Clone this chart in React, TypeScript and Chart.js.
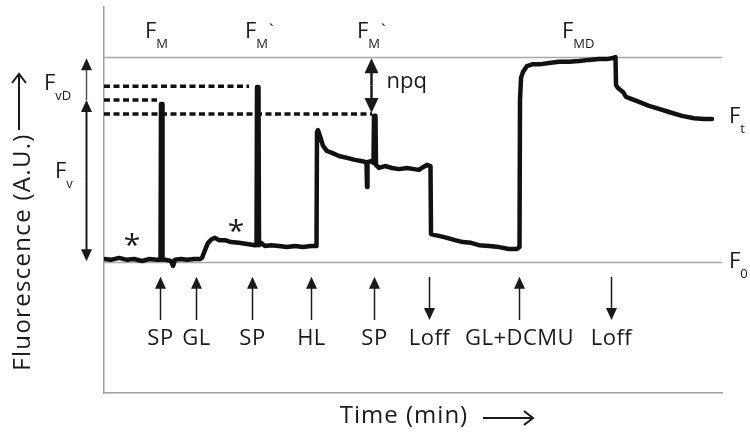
import React, { useEffect, useRef } from "react";
import { Chart, registerables } from "chart.js";

Chart.register(...registerables);

// ---- Measured trace: time (min) and fluorescence (A.U.) ----
const traceTime = [
  0.0, 0.7, 1.5, 2.3, 3.0, 3.8, 4.5, 5.3, 5.65, 5.7, 5.8, 5.85, 6.2, 6.7, 6.9, 7.1, 7.7, 8.3, 9.0, 9.6,
  9.8, 10.1, 10.4, 10.8, 11.1, 11.5, 12.1, 12.7, 13.5, 14.3, 15.1, 15.25, 15.3, 15.45, 15.5, 15.7, 16.1,
  16.7, 17.5, 18.3, 19.1, 19.9, 20.7, 21.25, 21.3, 21.4, 21.6, 21.9, 22.3, 22.8, 23.5, 24.3, 25.1, 25.7,
  26.25, 26.3, 26.35, 26.7, 26.95, 27.0, 27.15, 27.2, 27.5, 28.1, 28.8, 29.5, 30.3, 31.0, 31.5, 31.9,
  32.3, 32.65, 32.7, 33.1, 33.5, 34.3, 35.1, 35.9, 36.7, 37.5, 38.5, 39.5, 40.5, 41.3, 41.55, 41.6, 41.7,
  41.9, 42.3, 42.9, 43.7, 44.5, 45.5, 46.5, 47.5, 48.5, 49.5, 50.3, 50.9, 51.15, 51.2, 51.4, 51.9, 52.2,
  53.5, 54.5, 55.5, 56.5, 57.8, 59.0, 60.0, 60.8,
];
const traceFluor = [
  34.7, 34.5, 35.0, 34.5, 34.7, 34.2, 34.7, 34.5, 34.5, 74.9, 74.9, 34.5, 34.5, 34.2, 32.9, 34.5, 34.7,
  34.5, 34.7, 34.7, 35.0, 37.0, 38.9, 39.9, 40.2, 39.6, 39.6, 39.1, 38.9, 38.6, 38.3, 38.3, 79.3, 79.3,
  38.3, 38.9, 38.1, 38.3, 38.1, 37.8, 38.1, 37.8, 38.1, 38.1, 67.6, 68.1, 66.6, 64.0, 62.7, 62.2, 61.4,
  60.9, 60.4, 60.1, 59.8, 53.4, 59.8, 60.1, 59.6, 71.8, 71.8, 59.1, 58.3, 58.8, 58.3, 58.0, 58.3, 58.0,
  57.8, 58.5, 59.1, 58.8, 41.2, 40.9, 40.7, 40.2, 39.6, 39.1, 38.9, 38.3, 38.1, 37.8, 37.3, 37.3, 37.8,
  75.9, 81.6, 83.2, 84.7, 85.2, 85.2, 85.5, 85.8, 85.8, 86.0, 86.3, 86.5, 86.5, 86.8, 87.0, 79.8, 79.0,
  78.0, 76.7, 75.4, 74.4, 73.6, 72.8, 71.8, 71.2, 71.0, 71.0,
];

// ---- Reference levels (A.U.) ----
const F0_LEVEL = 33.9;
const FMD_LEVEL = 87.0;
const fmDashLevels = [75.9, 79.5, 72.3];
const fmDashEnds = [5.3, 14.5, 26.8];

// ---- Events below the trace ----
const eventTimes = [5.6, 9.2, 14.8, 20.7, 27.0, 32.5, 41.5, 50.7];
const eventLabels = ["SP", "GL", "SP", "HL", "SP", "Loff", "GL+DCMU", "Loff"];
const eventUp = [true, true, true, true, true, false, true, false];
const EVENT_ARROW_TOP = 30.1;
const EVENT_ARROW_BOTTOM = 18.9;
const EVENT_LABEL_Y = 12.4;

// ---- F labels ----
const fLabelTimes = [4.1, 14.1, 25.3, 45.8, 62.5, 62.5, -6.0, -4.9];
const fLabelLevels = [92.0, 92.0, 92.0, 92.0, 69.9, 32.4, 78.5, 55.7];
const fLabelSubs = ["M", "M", "M", "MD", "t", "0", "vD", "v"];
const fLabelPrimes = ["", "`", "`", "", "", "", "", ""];

// ---- Marker positions ----
const asteriskTimes = [2.8, 13.2];
const asteriskLevels = [40.2, 44.0];
const LEFT_ARROW_TIME = -1.8;
const NPQ_TIME = 26.7;

const FONT = "'Open Sans', 'DejaVu Sans', sans-serif";

function vArrow(ctx: CanvasRenderingContext2D, x: number, yBase: number, yTip: number, hl: number, hw: number) {
  const d = Math.sign(yTip - yBase);
  ctx.beginPath();
  ctx.moveTo(x, yBase);
  ctx.lineTo(x, yTip - d * hl * 0.8);
  ctx.stroke();
  ctx.beginPath();
  ctx.moveTo(x, yTip);
  ctx.lineTo(x - hw, yTip - d * hl);
  ctx.lineTo(x + hw, yTip - d * hl);
  ctx.closePath();
  ctx.fill();
}

const annotatePlugin = {
  id: "annotate",
  beforeDatasetsDraw(chart: any) {
    const { ctx, chartArea, scales } = chart;
    const y = scales.y;
    ctx.save();
    ctx.strokeStyle = "#a8a8a8";
    ctx.lineWidth = 1.5;
    for (const lvl of [F0_LEVEL, FMD_LEVEL]) {
      const py = Math.round(y.getPixelForValue(lvl)) + 0.5;
      ctx.beginPath();
      ctx.moveTo(chartArea.left, py);
      ctx.lineTo(chartArea.right, py);
      ctx.stroke();
    }
    ctx.restore();
  },
  afterDatasetsDraw(chart: any) {
    const { ctx, chartArea, scales } = chart;
    const x = scales.x;
    const y = scales.y;
    ctx.save();
    ctx.fillStyle = "#1a1a1a";
    ctx.strokeStyle = "#1a1a1a";

    // event arrows and labels
    ctx.lineWidth = 1.5;
    eventTimes.forEach((t, i) => {
      const px = Math.round(x.getPixelForValue(t)) + 0.5;
      const top = y.getPixelForValue(EVENT_ARROW_TOP);
      const bot = y.getPixelForValue(EVENT_ARROW_BOTTOM);
      if (eventUp[i]) vArrow(ctx, px, bot, top, 12, 5.5);
      else vArrow(ctx, px, top, bot, 12, 5.5);
      ctx.font = `22px ${FONT}`;
      (ctx as any).letterSpacing = "0.5px";
      ctx.textAlign = "center";
      ctx.textBaseline = "alphabetic";
      ctx.fillText(eventLabels[i], px, y.getPixelForValue(EVENT_LABEL_Y));
      (ctx as any).letterSpacing = "0px";
    });

    // left arrows: FvD and Fv
    const lx = Math.round(x.getPixelForValue(LEFT_ARROW_TIME)) + 0.5;
    const pFm = y.getPixelForValue(fmDashLevels[0]);
    const pFmd = y.getPixelForValue(FMD_LEVEL);
    const pF0 = y.getPixelForValue(F0_LEVEL);
    ctx.strokeStyle = "#555";
    ctx.lineWidth = 1.5;
    vArrow(ctx, lx, pFm, pFmd + 1, 12, 5.5);
    ctx.strokeStyle = "#1a1a1a";
    ctx.lineWidth = 2;
    vArrow(ctx, lx, (pFm + pF0) / 2, pFm, 12, 5.5);
    vArrow(ctx, lx, (pFm + pF0) / 2, pF0 - 1, 12, 5.5);

    // npq double arrow
    const nx = Math.round(x.getPixelForValue(NPQ_TIME)) + 0.5;
    const pTop = y.getPixelForValue(FMD_LEVEL) + 1;
    const pBot = y.getPixelForValue(fmDashLevels[2]) - 1;
    ctx.lineWidth = 2.5;
    vArrow(ctx, nx, (pTop + pBot) / 2, pTop, 15, 7);
    vArrow(ctx, nx, (pTop + pBot) / 2, pBot, 15, 7);
    ctx.font = `22px ${FONT}`;
    ctx.textAlign = "left";
    ctx.fillText("npq", nx + 15, y.getPixelForValue(FMD_LEVEL) + 31);

    // asterisks
    const aSize = 30;
    ctx.font = `${aSize}px ${FONT}`;
    ctx.textAlign = "center";
    asteriskTimes.forEach((t, i) => {
      ctx.fillText("*", x.getPixelForValue(t), y.getPixelForValue(asteriskLevels[i]) + aSize * 0.58);
    });

    // F labels with subscripts
    fLabelTimes.forEach((t, i) => {
      const px = x.getPixelForValue(t);
      const py = y.getPixelForValue(fLabelLevels[i]);
      ctx.textAlign = "left";
      ctx.font = `22px ${FONT}`;
      ctx.fillText("F", px, py);
      const wF = ctx.measureText("F").width;
      ctx.font = `13px ${FONT}`;
      ctx.fillText(fLabelSubs[i], px + wF, py + 10);
      const wS = ctx.measureText(fLabelSubs[i]).width;
      if (fLabelPrimes[i]) {
        ctx.font = `17px ${FONT}`;
        ctx.fillText(fLabelPrimes[i], px + wF + wS + 1, py - 2);
      }
    });

    // axis titles with arrows
    ctx.fillStyle = "#1a1a1a";
    ctx.strokeStyle = "#1a1a1a";
    ctx.lineWidth = 2;
    ctx.font = `24px ${FONT}`;
    (ctx as any).letterSpacing = "1px";
    ctx.textAlign = "center";
    ctx.fillText("Time (min)", chartArea.left + 300, chartArea.bottom + 30);
    const ax0 = chartArea.left + 379;
    const ax1 = chartArea.left + 429;
    const ay = chartArea.bottom + 25;
    ctx.beginPath();
    ctx.moveTo(ax0, ay);
    ctx.lineTo(ax1, ay);
    ctx.moveTo(ax1 - 9, ay - 7);
    ctx.lineTo(ax1, ay);
    ctx.lineTo(ax1 - 9, ay + 7);
    ctx.stroke();

    ctx.save();
    ctx.translate(30, 252);
    ctx.rotate(-Math.PI / 2);
    (ctx as any).letterSpacing = "1.3px";
    ctx.fillText("Fluorescence (A.U.)", 0, 0);
    ctx.restore();
    (ctx as any).letterSpacing = "0px";
    const vx = 19;
    ctx.beginPath();
    ctx.moveTo(vx, 130);
    ctx.lineTo(vx, 74);
    ctx.moveTo(vx - 7, 83);
    ctx.lineTo(vx, 74);
    ctx.lineTo(vx + 7, 83);
    ctx.stroke();

    ctx.restore();
  },
};

export default function App() {
  const canvasRef = useRef<HTMLCanvasElement | null>(null);

  useEffect(() => {
    const canvas = canvasRef.current;
    if (!canvas) return;
    const trace = traceTime.map((t, i) => ({ x: t, y: traceFluor[i] }));
    const dashSets = fmDashLevels.map((lvl, i) => ({
      data: [
        { x: 0, y: lvl },
        { x: fmDashEnds[i], y: lvl },
      ],
      borderColor: "#111",
      borderWidth: 3.5,
      borderDash: [6, 3.5],
      pointRadius: 0,
      showLine: true,
      fill: false,
    }));
    const chart = new Chart(canvas, {
      type: "scatter",
      data: {
        datasets: [
          {
            data: trace,
            borderColor: "#111",
            borderWidth: 4.5,
            borderJoinStyle: "round",
            borderCapStyle: "round",
            pointRadius: 0,
            showLine: true,
            fill: false,
            tension: 0,
          } as any,
          ...dashSets,
        ],
      },
      options: {
        responsive: false,
        animation: false,
        devicePixelRatio: 1,
        layout: { padding: { left: 104, right: 28, top: 7, bottom: 40 } },
        plugins: { legend: { display: false }, tooltip: { enabled: false } },
        scales: {
          x: {
            type: "linear",
            min: 0,
            max: 61.8,
            grid: { display: false, drawTicks: false },
            ticks: { display: false },
            border: { display: true, color: "#a0a0a0", width: 1.5 },
          },
          y: {
            type: "linear",
            min: 0,
            max: 100,
            grid: { display: false, drawTicks: false },
            ticks: { display: false },
            border: { display: true, color: "#a0a0a0", width: 1.5 },
          },
        },
      },
      plugins: [annotatePlugin],
    });
    return () => chart.destroy();
  }, []);

  return (
    <div style={{ position: "fixed", left: 0, top: 0, width: 750, height: 433, background: "#fff" }}>
      <canvas ref={canvasRef} width={750} height={433} style={{ display: "block" }} />
    </div>
  );
}
